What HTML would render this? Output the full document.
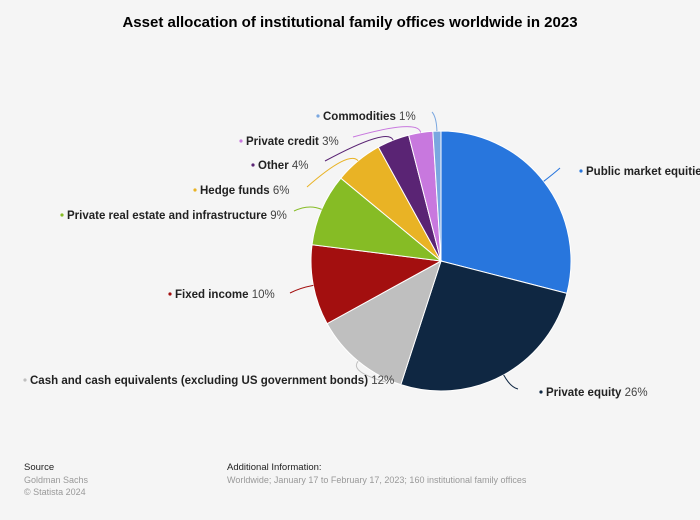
<!DOCTYPE html>
<html><head><meta charset="utf-8">
<style>
body{margin:0;background:#f5f5f5;font-family:"Liberation Sans",Arial,sans-serif;}
#wrap{position:relative;width:700px;height:520px;overflow:hidden;background:#f5f5f5;}
h1{position:absolute;top:14px;left:0;width:700px;text-align:center;margin:0;font-size:15px;font-weight:bold;color:#000;}
.foot{position:absolute;font-size:9px;color:#999;line-height:12px;}
.foot b{color:#222;font-weight:normal;font-size:9.5px;}
svg text{font-family:"Liberation Sans",Arial,sans-serif;font-size:11.5px;}
</style></head><body>
<div id="wrap">
<h1>Asset allocation of institutional family offices worldwide in 2023</h1>
<svg id="chart" width="700" height="520" style="position:absolute;left:0;top:0"></svg>
<div class="foot" style="left:24px;top:461px"><b>Source</b><br>Goldman Sachs<br>© Statista 2024</div>
<div class="foot" style="left:227px;top:461px"><b>Additional Information:</b><br>Worldwide; January 17 to February 17, 2023; 160 institutional family offices</div>
</div>
<script>
const categories=["Public market equities","Private equity","Cash and cash equivalents (excluding US government bonds)","Fixed income","Private real estate and infrastructure","Hedge funds","Other","Private credit","Commodities"];
const values=[29,26,12,10,9,6,4,3,1];
const valueLabels=["29%","26%","12%","10%","9%","6%","4%","3%","1%"];
const colors=["#2876dd","#0f2742","#bfbfbf","#a30f0f","#86bc25","#e9b325","#5a2474","#c878de","#7aa7e0"];
// label layout: [dotX, textY, lineEndX, lineEndY, anchor]
const layout=[[581,175,560,168,"start"],[541,396,518,389,"start"],[25,384,386,382,"start"],[170,298,290,293,"start"],[62,219,294,211,"start"],[195,194,307,187,"start"],[253,169,325,161,"start"],[241,145,353,137,"start"],[318,120,432,112,"start"]];
const NS="http://www.w3.org/2000/svg";
const svg=document.getElementById('chart');
const cx=441,cy=261,r=130;
const total=values.reduce((a,b)=>a+b,0);
function ang(v){return v/total*2*Math.PI;}
function pt(a,rr){return [cx+rr*Math.sin(a),cy-rr*Math.cos(a)];}
let start=0;
values.forEach((v,i)=>{
  const end=start+ang(v);
  const p1=pt(start,r),p2=pt(end,r);
  const large=end-start>Math.PI?1:0;
  const path=document.createElementNS(NS,'path');
  path.setAttribute('d',`M${cx},${cy} L${p1[0]},${p1[1]} A${r},${r} 0 ${large} 1 ${p2[0]},${p2[1]} Z`);
  path.setAttribute('fill',colors[i]);
  path.setAttribute('stroke','#fff');
  path.setAttribute('stroke-width','1');
  
  
  svg.appendChild(path);
  const mid=(start+end)/2;
  const m=pt(mid,r);
  const L=layout[i];
  const ln=document.createElementNS(NS,'path');
  const ctrl=pt(mid,r+14);
  ln.setAttribute('d',`M${m[0]},${m[1]} Q${ctrl[0]},${ctrl[1]} ${L[2]},${L[3]}`);
  ln.setAttribute('fill','none');
  ln.setAttribute('stroke',colors[i]);
  ln.setAttribute('stroke-width','1');
  
  
  svg.appendChild(ln);
  const dot=document.createElementNS(NS,'circle');
  dot.setAttribute('cx',L[0]);dot.setAttribute('cy',L[1]-4);dot.setAttribute('r',1.6);
  dot.setAttribute('fill',colors[i]);
  
  
  svg.appendChild(dot);
  const t=document.createElementNS(NS,'text');
  t.setAttribute('x',L[0]+5);t.setAttribute('y',L[1]);
  
  
  const s1=document.createElementNS(NS,'tspan');
  s1.setAttribute('font-weight','bold');s1.setAttribute('fill','#222');
  s1.textContent=categories[i]+' ';
  const s2=document.createElementNS(NS,'tspan');
  s2.setAttribute('fill','#444');
  s2.textContent=valueLabels[i];
  t.appendChild(s1);t.appendChild(s2);
  svg.appendChild(t);
  start=end;
});
</script>
</body></html>
